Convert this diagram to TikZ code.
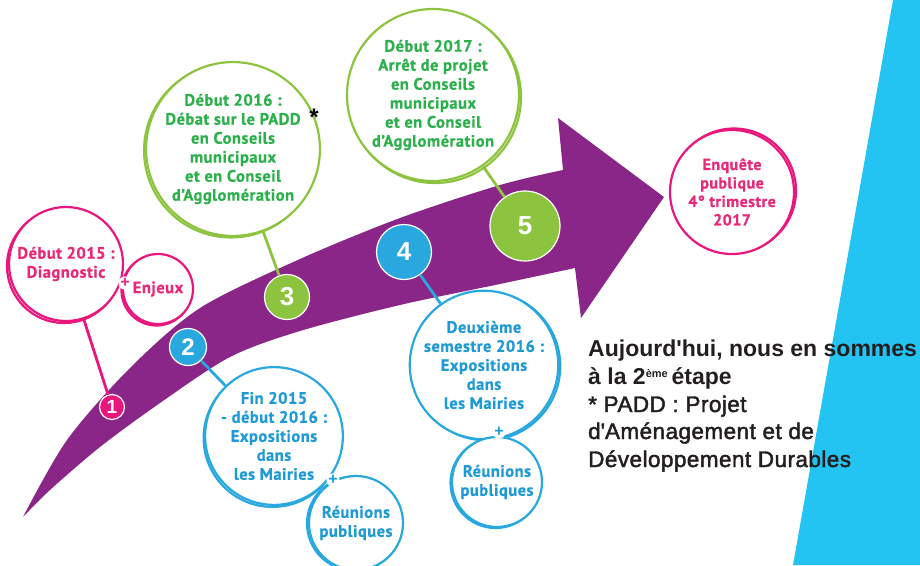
\documentclass[tikz,border=0pt]{standalone}
\usepackage{fontspec}
\setmainfont{PT Sans}[LetterSpace=3,BoldFeatures={FakeBold=0.6}]
\newfontfamily\numfont{Liberation Sans}
\newfontfamily\notefont[LetterSpace=2,FakeBold=2]{Liberation Sans}
\definecolor{arrowc}{RGB}{139,38,137}
\definecolor{cyanc}{RGB}{35,195,242}
\definecolor{pinkc}{RGB}{233,22,125}
\definecolor{pinkt}{RGB}{232,40,120}
\definecolor{bluec}{RGB}{41,168,224}
\definecolor{bluet}{RGB}{30,154,214}
\definecolor{greenc}{RGB}{140,196,64}
\definecolor{greent}{RGB}{44,176,76}
\definecolor{notec}{RGB}{35,31,32}

\begin{document}
\begin{tikzpicture}[x=1pt,y=-1pt,
    ring/.style n args={4}{circle,inner sep=0pt,minimum size=#3,fill=white,
      draw=#1,line width=2.2pt,text=#2,align=center,
      font=\fontsize{16.5}{19}\selectfont\bfseries,
      preaction={draw=#1,line width=2.2pt,transform canvas={shift={#4}}}},
    badge/.style={circle,inner sep=0pt,fill=#1,draw=white,line width=1.2pt,text=white},
    stem/.style={draw=#1,line width=2.8pt},
    plussign/.style={circle,fill=white,inner sep=0pt,minimum size=13pt,text=#1,
      font=\numfont\bfseries\fontsize{16}{16}\selectfont}]
  \useasboundingbox (0,0) rectangle (920,565);
  % background band and arrow
  \fill[cyanc] (893,0) -- (920,0) -- (920,565) -- (793,565) -- cycle;
  \fill[arrowc] plot[smooth] coordinates {(23,517) (67,440) (130,368) (200,308)
      (300,259) (400,218) (500,185) (563,170)}
    -- (558,118) -- (664,197) -- (581,318) -- (575,268)
    -- plot[smooth] coordinates {(575,268) (500,284) (400,305) (300,331)
      (230,357) (160,403) (100,447) (50,490) (23,517)} -- cycle;

  % stages
  \node[ring={pinkc}{pinkt}{114}{(-2,2)}] (p1) at (66,264) {Début 2015 :\\Diagnostic};
  \node[ring={pinkc}{pinkt}{70}{(-1.5,1.5)}] (p2) at (158,289) {Enjeux};
  \node[plussign=pinkt] (p12) at (125,283) {+};

  \node[ring={bluec}{bluet}{134}{(-1.5,2)}] (f1) at (274,436)
    {Fin 2015\\- début 2016 :\\Expositions\\dans\\les Mairies};
  \node[ring={bluec}{bluet}{94}{(-2,0.5)}] (f2) at (356,523) {Réunions\\publiques};
  \node[plussign=bluet] (f12) at (333,480) {+};

  \node[ring={greenc}{greent}{166}{(-2,1.5)}] (g1) at (233,149)
    {Début 2016 :\\Débat sur le PADD\\en Conseils\\municipaux\\et en Conseil\\d’Agglomération};
  \node[font=\numfont\bfseries\fontsize{24}{24}\selectfont] (ast) at (314,117) {*};

  \node[ring={bluec}{bluet}{138}{(2,1)}] (d1) at (484,365)
    {Deuxième\\semestre 2016 :\\Expositions\\dans\\les Mairies};
  \node[ring={bluec}{bluet}{90}{(-1.5,1)}] (d2) at (497,482) {Réunions\\publiques};
  \node[plussign=bluet] (d12) at (499,432) {+};

  \node[ring={greenc}{greent}{172}{(2,2)}] (g2) at (433,95)
    {Début 2017 :\\Arrêt de projet\\en Conseils\\municipaux\\et en Conseil\\d’Agglomération};

  \node[ring={pinkc}{pinkt}{124}{(2,-1.5)},font=\fontsize{16}{18.5}\selectfont\bfseries] (e1)
    at (732,192) {Enquête\\publique\\4° trimestre\\2017};

  % numbered badges
  \foreach \n/\x/\y/\r/\c/\s in {1/112/407/25/pinkc/19,2/188/347/37/bluec/24,
      3/287/297/45/greenc/26,4/404/252/55/bluec/26,5/525/226/70/greenc/26}
    \node[badge=\c,minimum size=\r,font=\numfont\bfseries\fontsize{\s}{\s}\selectfont]
      (b\n) at (\x,\y) {\n};

  \draw[stem=pinkc] (p1) -- (b1);
  \draw[stem=bluec] (b2) -- (f1);
  \draw[stem=greenc] (g1) -- (b3);
  \draw[stem=bluec] (b4) -- (d1);
  \draw[stem=greenc] (g2) -- (b5);

  % note
  \node[anchor=base west,inner sep=0pt,text=notec,
    font=\numfont\bfseries\fontsize{23}{27}\selectfont] (n1) at (588,356)
    {Aujourd\textquotesingle hui, nous en sommes};
  \node[anchor=base west,inner sep=0pt,text=notec,
    font=\numfont\bfseries\fontsize{23}{27}\selectfont] (n2) at (588,384)
    {à la 2\raisebox{7pt}{\fontsize{11}{11}\selectfont ème}\,étape};
  \node[anchor=base west,inner sep=0pt,text=notec,
    font=\notefont\fontsize{22.5}{27}\selectfont] (n3) at (588,412) {* PADD : Projet};
  \node[anchor=base west,inner sep=0pt,text=notec,
    font=\notefont\fontsize{22.5}{27}\selectfont] (n4) at (588,439)
    {d\textquotesingle Aménagement et de};
  \node[anchor=base west,inner sep=0pt,text=notec,
    font=\notefont\fontsize{22.5}{27}\selectfont] (n5) at (588,467)
    {Développement Durables};
\end{tikzpicture}
\end{document}
